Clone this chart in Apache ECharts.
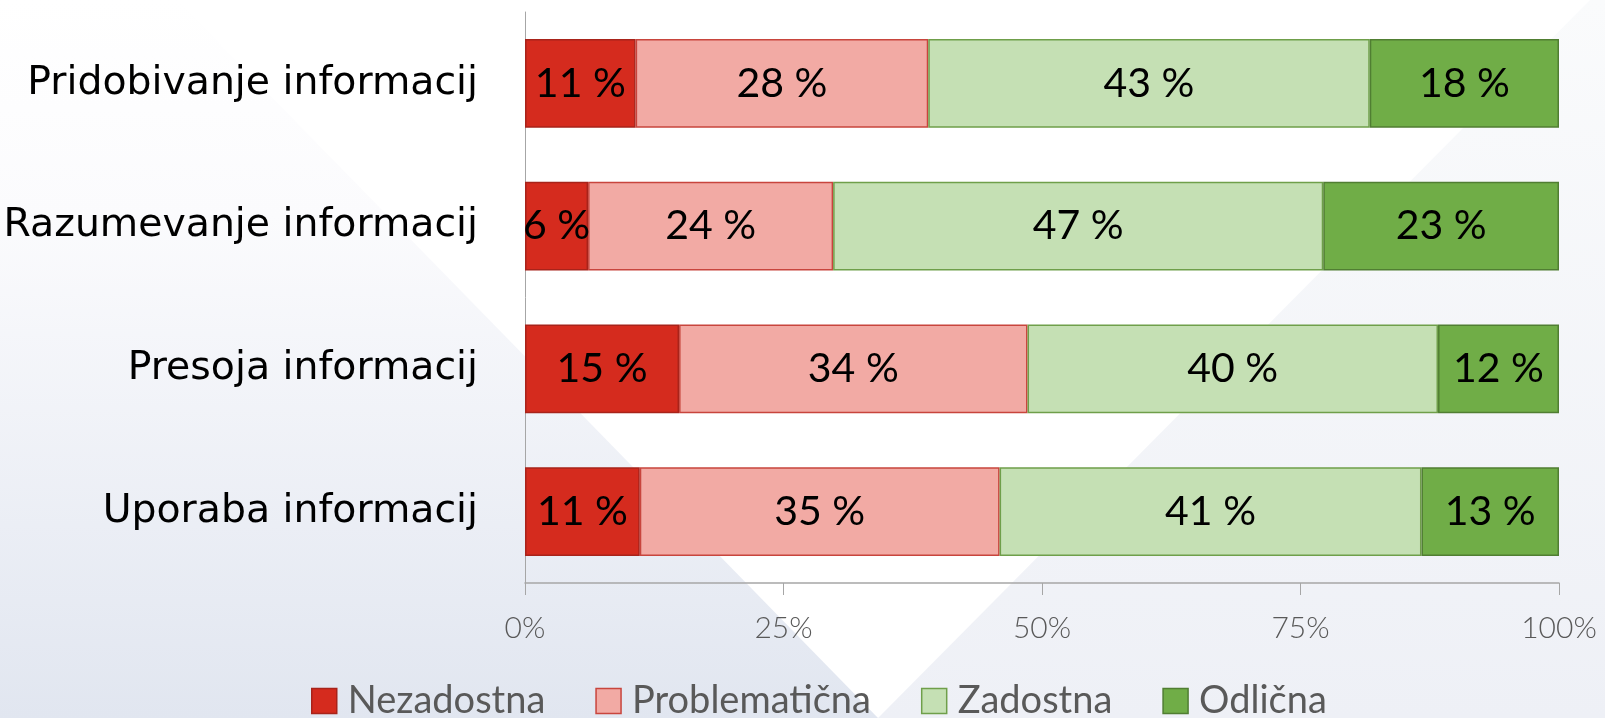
<!DOCTYPE html>
<html>
<head>
<meta charset="utf-8">
<script src="https://cdn.jsdelivr.net/npm/echarts@6/dist/echarts.min.js"></script>
<style>
html,body{margin:0;padding:0;background:#fff;}
#chart{width:1605px;height:718px;}
</style>
</head>
<body>
<div id="chart"></div>
<script>
var categories = ['Pridobivanje informacij', 'Razumevanje informacij', 'Presoja informacij', 'Uporaba informacij'];
var seriesNames = ['Nezadostna', 'Problematična', 'Zadostna', 'Odlična'];
var nezadostna = [10.7, 6.1, 14.9, 11.1];
var problematicna = [28.3, 23.7, 33.7, 34.8];
var zadostna = [42.7, 47.4, 39.7, 40.8];
var odlicna = [18.3, 22.8, 11.7, 13.3];
var xTicks = [0, 25, 50, 75, 100];

var fills = ['#d52b1e', '#f2aaa4', '#c5e0b4', '#70ad47'];
var borders = ['#a8231a', '#c8453d', '#6f9f4a', '#507e32'];
var values = [nezadostna, problematicna, zadostna, odlicna];

var chart = echarts.init(document.getElementById('chart'), null, {renderer: 'canvas'});

var series = seriesNames.map(function (name, i) {
  return {
    name: name,
    type: 'bar',
    stack: 'total',
    barCategoryGap: '38%',
    data: values[i],
    itemStyle: {color: fills[i], borderColor: borders[i], borderWidth: 1.5},
    label: {
      show: true,
      position: 'inside',
      color: '#000',
      fontFamily: 'Lato',
      fontSize: 41,
      formatter: function (p) { return Math.round(p.value) + ' %'; }
    },
    emphasis: {disabled: true}
  };
});

chart.setOption({
  animation: false,
  graphic: [
    {type: 'polygon', silent: true, z: -10,
     shape: {points: [[0, 0], [177, 0], [878, 718], [0, 718]]},
     style: {fill: {type: 'linear', x: 0, y: 0, x2: 0, y2: 1, colorStops: [
       {offset: 0, color: '#ffffff'}, {offset: 0.3, color: '#fbfbfd'}, {offset: 1, color: '#e1e6f0'}]}}},
    {type: 'polygon', silent: true, z: -10,
     shape: {points: [[1590, 0], [1605, 0], [1605, 718], [878, 718]]},
     style: {fill: {type: 'linear', x: 0, y: 0, x2: 0, y2: 1, colorStops: [
       {offset: 0, color: '#fafbfc'}, {offset: 1, color: '#eef0f6'}]}}}
  ],
  legend: {
    data: seriesNames,
    left: 306,
    top: 677,
    itemWidth: 25,
    itemHeight: 25,
    itemGap: 50,
    icon: 'rect',
    textStyle: {fontFamily: 'Lato', fontSize: 38, color: '#595959', padding: [0, 0, 0, 6]},
    itemStyle: {borderWidth: 1.5}
  },
  grid: {left: 525, right: 46, top: 12, bottom: 135, containLabel: false},
  xAxis: {
    type: 'value',
    min: xTicks[0],
    max: xTicks[xTicks.length - 1],
    interval: 25,
    axisLine: {show: true, lineStyle: {color: '#a6a6a6', width: 1.5}},
    axisTick: {show: true, length: 12, lineStyle: {color: '#a6a6a6', width: 1}},
    splitLine: {show: false},
    axisLabel: {
      formatter: '{value}%',
      fontFamily: 'Lato',
      fontWeight: 300,
      fontSize: 30,
      color: '#595959',
      margin: 30
    }
  },
  yAxis: {
    type: 'category',
    inverse: true,
    data: categories,
    axisLine: {show: true, lineStyle: {color: '#a6a6a6', width: 1}},
    axisTick: {show: false},
    axisLabel: {
      fontFamily: 'DejaVu Sans',
      fontSize: 39.4,
      color: '#000',
      margin: 47
    }
  },
  series: series
});
</script>
</body>
</html>
